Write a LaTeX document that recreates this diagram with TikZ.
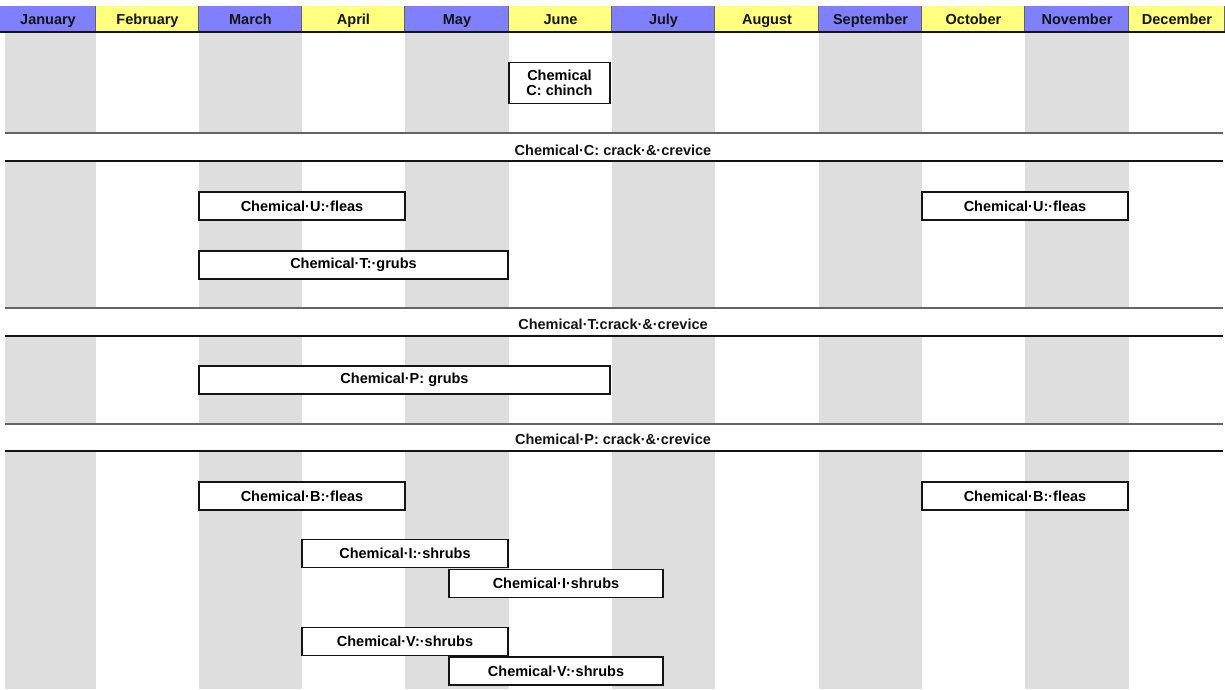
\documentclass[tikz,border=0pt]{standalone}
\usepackage{fontspec}
\setmainfont{Liberation Sans}
\usepackage{xcolor}
\usetikzlibrary{positioning}
\definecolor{hdrblue}{RGB}{128,128,255}
\definecolor{hdryellow}{RGB}{255,255,128}
\definecolor{colgray}{RGB}{222,222,222}
\definecolor{ink}{RGB}{20,20,20}
\definecolor{rulegray}{RGB}{100,100,100}
\tikzset{
  month/.style={inner sep=0pt,anchor=base,text=ink,font=\fontsize{14.5}{16}\selectfont\bfseries},
  taskbox/.style={draw=ink,line width=1.4pt,fill=white,inner sep=0pt,align=center,
    minimum height=28pt,font=\fontsize{14.5}{15}\selectfont\bfseries},
  bandtext/.style={inner sep=0pt,anchor=base,text=ink,font=\fontsize{14.5}{16}\selectfont\bfseries},
  topline/.style={rulegray,line width=1.3pt},
  botline/.style={ink,line width=1.7pt}
}

\begin{document}
\begin{tikzpicture}[x=1pt,y=-1pt]
  \useasboundingbox (0,0) rectangle (1225,689);
  % shaded month columns
  \foreach \a/\b in {5/96,199/302,405/509,612/715,819/922,1025/1129}
    {\fill[colgray] (\a,32) rectangle (\b,689);}
  % white bands
  \foreach \t/\u in {133/161,308/336,424/451}
    {\fill[white] (0,\t) rectangle (1225,\u);
     \draw[topline] (5,\t) -- (1223,\t);
     \draw[botline] (5,\u) -- (1223,\u);}
  % month header
  \foreach \m/\a/\b/\c in {January/0/96/hdrblue,February/96/199/hdryellow,
      March/199/302/hdrblue,April/302/405/hdryellow,May/405/509/hdrblue,
      June/509/612/hdryellow,July/612/715/hdrblue,August/715/819/hdryellow,
      September/819/922/hdrblue,October/922/1025/hdryellow,
      November/1025/1129/hdrblue,December/1129/1225/hdryellow}
    {\fill[\c] (\a,6) rectangle (\b,32);
     \draw[rulegray,line width=1.3pt] (\b,6) -- (\b,32);
     \node[month] (\m) at ({(\a+\b)/2},24.5) {\m};}
  \draw[ink,line width=2pt] (0,32) -- (1225,32);

  \node[taskbox,minimum width=101pt,minimum height=41pt] (chinch) at (559.5,83) {Chemical\\C: chinch};
  \node[bandtext] (crackC) at (613,155) {Chemical·C: crack·\&·crevice};

  \node[taskbox,minimum width=206pt] (fleasU1) at (302,206) {Chemical·U:·fleas};
  \node[taskbox,minimum width=206pt] (fleasU2) at (1025,206) {Chemical·U:·fleas};
  \node[taskbox,minimum width=309pt] (grubsT) at (353.5,265) {Chemical·T:·grubs};
  \node[bandtext] (crackT) at (613,329) {Chemical·T:crack·\&·crevice};

  \node[taskbox,minimum width=411pt] (grubsP) at (404.5,380) {Chemical·P: grubs};
  \node[bandtext] (crackP) at (613,444) {Chemical·P: crack·\&·crevice};

  \node[taskbox,minimum width=206pt] (fleasB1) at (302,496) {Chemical·B:·fleas};
  \node[taskbox,minimum width=206pt] (fleasB2) at (1025,496) {Chemical·B:·fleas};
  \node[taskbox,minimum width=206pt] (shrubsI1) at (405,553.5) {Chemical·I:·shrubs};
  \node[taskbox,minimum width=214pt] (shrubsI2) at (556,583.5) {Chemical·I·shrubs};
  \node[taskbox,minimum width=206pt] (shrubsV1) at (405,641.5) {Chemical·V:·shrubs};
  \node[taskbox,minimum width=214pt] (shrubsV2) at (556,671) {Chemical·V:·shrubs};
\end{tikzpicture}
\end{document}
